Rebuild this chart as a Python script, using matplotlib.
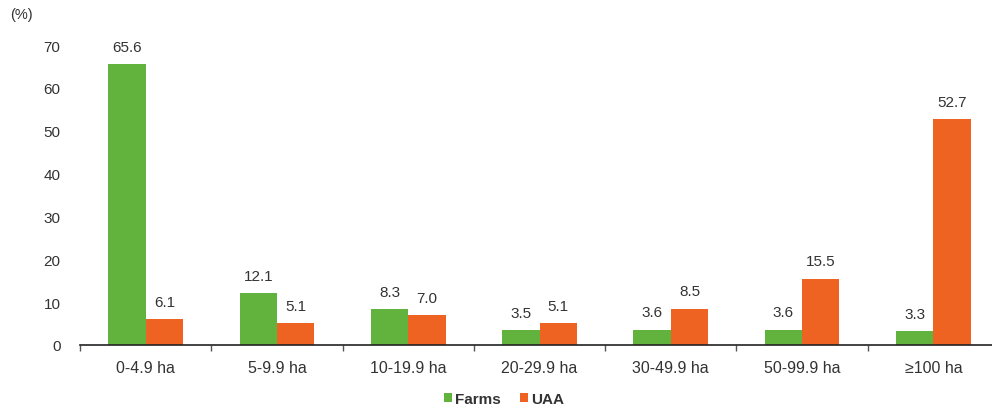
import matplotlib
matplotlib.use("Agg")
import matplotlib.pyplot as plt
import numpy as np

categories = ["0-4.9 ha", "5-9.9 ha", "10-19.9 ha", "20-29.9 ha", "30-49.9 ha", "50-99.9 ha", "\u2265100 ha"]
farms = [65.6, 12.1, 8.3, 3.5, 3.6, 3.6, 3.3]
uaa = [6.1, 5.1, 7.0, 5.1, 8.5, 15.5, 52.7]

plt.rcParams['font.family'] = ['Liberation Sans', 'DejaVu Sans']
green = "#61B33D"
orange = "#EE6322"
txt = "#333333"

fig = plt.figure(figsize=(9.92, 4.14), dpi=100)
ax = fig.add_axes([80/992, (414-346)/414, (999-80)/992, 300/414])

x = np.arange(len(categories))
w = 0.285
b1 = ax.bar(x - w/2, farms, w, color=green, label="Farms")
b2 = ax.bar(x + w/2, uaa, w, color=orange, label="UAA")
for bars, vals in ((b1, farms), (b2, uaa)):
    for r, v in zip(bars, vals):
        ax.text(r.get_x() + r.get_width()/2, v + 2.4, f"{v:.1f}", ha="center", va="bottom",
                fontsize=11, color=txt)

ax.set_xlim(-0.5, len(categories) - 0.5)
ax.set_ylim(0, 70)
ax.set_yticks(range(0, 71, 10))
ax.tick_params(axis="y", length=0, pad=14, labelsize=11, labelcolor=txt)
ax.set_xticks(x)
ax.set_xticklabels(categories)
ax.tick_params(axis="x", length=0, pad=11, labelsize=11.5, labelcolor=txt)
ax.set_xticks(np.arange(-0.5, len(categories), 1), minor=True)
ax.tick_params(axis="x", which="minor", length=4, width=1, color="#555555", direction="out")
for s in ("top", "right", "left"):
    ax.spines[s].set_visible(False)
ax.spines["bottom"].set_color("#222222")
ax.spines["bottom"].set_linewidth(1.2)

fig.text(10/992, 1 - 15/414, "(%)", fontsize=10.5, color=txt, va="center")

leg = fig.legend(handles=[b1, b2], loc="center", bbox_to_anchor=(504/992, 1 - 400/414),
                 ncol=2, frameon=False, fontsize=11, handlelength=0.55, handleheight=0.55,
                 handletextpad=0.2, columnspacing=1.2)
for t in leg.get_texts():
    t.set_fontweight("bold")
    t.set_color(txt)

fig.savefig("out.png", dpi=100)
